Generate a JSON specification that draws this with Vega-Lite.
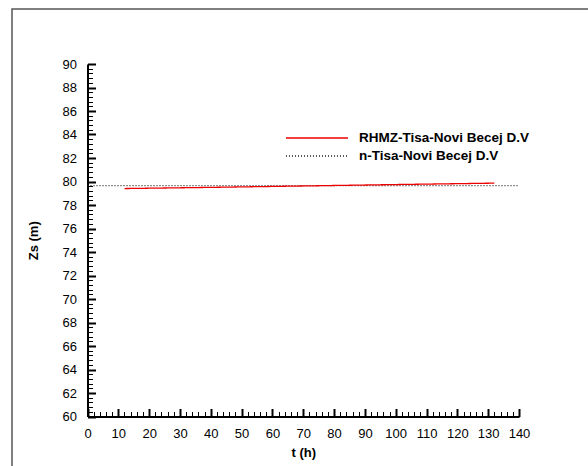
{
  "$schema": "https://vega.github.io/schema/vega-lite/v6.json",
  "autosize": "none",
  "padding": {"left": 12, "top": 9, "right": 0, "bottom": 0},
  "width": 590,
  "height": 470,
  "background": "white",
  "config": {
    "view": {"stroke": "#555555", "strokeWidth": 1.5},
    "font": "Liberation Sans",
    "axis": {"grid": false}
  },
  "data": {
    "values": [
      {"t": 0, "z": 79.65, "s": "n-Tisa-Novi Becej D.V"},
      {"t": 140, "z": 79.65, "s": "n-Tisa-Novi Becej D.V"},
      {"t": 12, "z": 79.4, "s": "RHMZ-Tisa-Novi Becej D.V"},
      {"t": 40, "z": 79.5, "s": "RHMZ-Tisa-Novi Becej D.V"},
      {"t": 70, "z": 79.62, "s": "RHMZ-Tisa-Novi Becej D.V"},
      {"t": 100, "z": 79.74, "s": "RHMZ-Tisa-Novi Becej D.V"},
      {"t": 132, "z": 79.86, "s": "RHMZ-Tisa-Novi Becej D.V"}
    ]
  },
  "mark": {"type": "line", "strokeWidth": 1.3},
  "encoding": {
    "x": {
      "field": "t", "type": "quantitative",
      "scale": {"domain": [0, 140], "range": [75.5, 507], "nice": false, "zero": false},
      "axis": {
        "title": "t (h)",
        "titleFont": "Liberation Sans", "titleFontSize": 13, "titleFontWeight": "bold", "titleColor": "black",
        "titlePadding": 3,
        "offset": -62.5,
        "values": [0,2,4,6,8,10,12,14,16,18,20,22,24,26,28,30,32,34,36,38,40,42,44,46,48,50,52,54,56,58,60,62,64,66,68,70,72,74,76,78,80,82,84,86,88,90,92,94,96,98,100,102,104,106,108,110,112,114,116,118,120,122,124,126,128,130,132,134,136,138,140],
        "labelExpr": "datum.value % 10 === 0 ? format(datum.value, 'd') : ''",
        "labelOverlap": false, "labelFlush": false,
        "labelFont": "Liberation Sans", "labelFontSize": 13, "labelColor": "black",
        "labelPadding": 19,
        "domainColor": "black", "domainWidth": 2,
        "tickColor": "black",
        "tickSize": {"condition": {"test": "datum.value % 10 === 0", "value": -8}, "value": -5},
        "tickWidth": {"condition": {"test": "datum.value % 10 === 0", "value": 2}, "value": 1}
      }
    },
    "y": {
      "field": "z", "type": "quantitative",
      "scale": {"domain": [60, 90], "range": [407.5, 55], "nice": false, "zero": false},
      "axis": {
        "title": "Zs (m)",
        "titleFont": "Liberation Sans", "titleFontSize": 13, "titleFontWeight": "bold", "titleColor": "black",
        "titlePadding": 22,
        "offset": -75.5,
        "values": [60,60.4,60.8,61.2,61.6,62,62.4,62.8,63.2,63.6,64,64.4,64.8,65.2,65.6,66,66.4,66.8,67.2,67.6,68,68.4,68.8,69.2,69.6,70,70.4,70.8,71.2,71.6,72,72.4,72.8,73.2,73.6,74,74.4,74.8,75.2,75.6,76,76.4,76.8,77.2,77.6,78,78.4,78.8,79.2,79.6,80,80.4,80.8,81.2,81.6,82,82.4,82.8,83.2,83.6,84,84.4,84.8,85.2,85.6,86,86.4,86.8,87.2,87.6,88,88.4,88.8,89.2,89.6,90],
        "labelExpr": "datum.value % 2 === 0 ? format(datum.value, 'd') : ''",
        "labelOverlap": false, "labelFlush": false,
        "labelFont": "Liberation Sans", "labelFontSize": 13, "labelColor": "black",
        "labelPadding": 19,
        "domainColor": "black", "domainWidth": 2,
        "tickColor": "black",
        "tickSize": {"condition": {"test": "datum.value % 2 === 0", "value": -8}, "value": -5},
        "tickWidth": {"condition": {"test": "datum.value % 2 === 0", "value": 2}, "value": 1}
      }
    },
    "color": {
      "field": "s", "type": "nominal",
      "scale": {"domain": ["RHMZ-Tisa-Novi Becej D.V", "n-Tisa-Novi Becej D.V"], "range": ["#ee0000", "#222222"]},
      "legend": {
        "title": null,
        "orient": "none",
        "legendX": 273,
        "legendY": 121,
        "padding": 0,
        "symbolType": "stroke",
        "symbolSize": 3844,
        "symbolStrokeWidth": 1.3,
        "clipHeight": 16,
        "labelOffset": 10,
        "labelFont": "Liberation Sans", "labelFontSize": 13.5, "labelFontWeight": "bold", "labelColor": "black",
        "labelLimit": 300
      }
    },
    "strokeDash": {
      "field": "s", "type": "nominal",
      "scale": {"domain": ["RHMZ-Tisa-Novi Becej D.V", "n-Tisa-Novi Becej D.V"], "range": [[1, 0], [1, 2]]},
      "legend": {
        "title": null,
        "orient": "none",
        "legendX": 273,
        "legendY": 121,
        "padding": 0,
        "symbolType": "stroke",
        "symbolSize": 3844,
        "symbolStrokeWidth": 1.3,
        "clipHeight": 16,
        "labelOffset": 10,
        "labelFont": "Liberation Sans", "labelFontSize": 13.5, "labelFontWeight": "bold", "labelColor": "black",
        "labelLimit": 300
      }
    }
  }
}
